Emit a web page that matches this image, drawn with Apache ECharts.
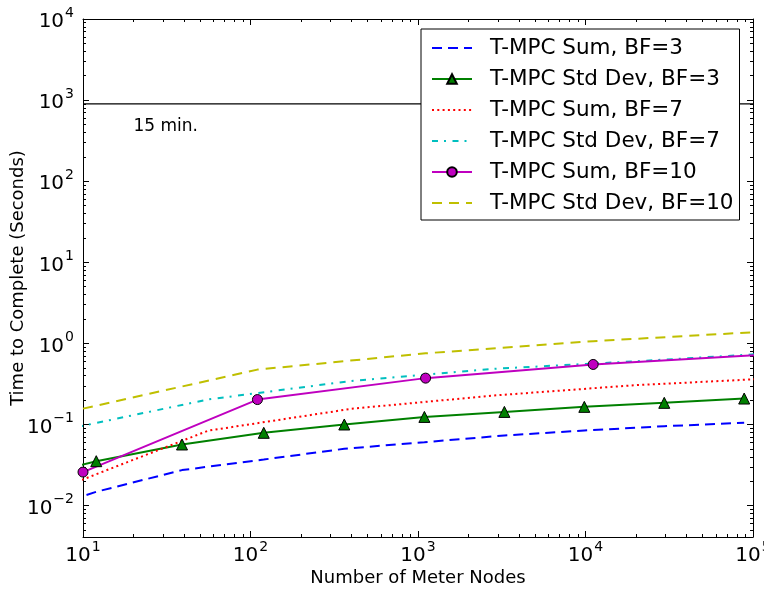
<!DOCTYPE html>
<html><head><meta charset="utf-8">
<script src="https://cdn.jsdelivr.net/npm/echarts@6/dist/echarts.min.js"></script>
<style>html,body{margin:0;padding:0;background:#fff}#c{width:764px;height:592px}</style>
</head><body><div id="c"></div>
<script>
// ---- data ----
const xBF3 = [3, 12, 39, 120, 363, 1092, 3279, 9840, 29523, 88572];
const sumBF3 = [0.0057, 0.0148, 0.0274, 0.037, 0.0502, 0.0605, 0.0732, 0.0843, 0.0953, 0.105];
const stdBF3 = [0.0171, 0.0353, 0.0567, 0.079, 0.100, 0.124, 0.143, 0.165, 0.185, 0.209];
const xBF7 = [7, 56, 399, 2800, 19607, 137256];
const sumBF7 = [0.0158, 0.084, 0.156, 0.2275, 0.305, 0.372];
const stdBF7 = [0.0826, 0.204, 0.344, 0.485, 0.60, 0.76];
const xBF10 = [10, 110, 1110, 11110, 111110];
const sumBF10 = [0.0259, 0.203, 0.373, 0.55, 0.724];
const stdBF10 = [0.157, 0.475, 0.755, 1.065, 1.39];
const limitX = [10, 100000];
const limitY = [900, 900];
const limitText = '15 min.';
const limitTextPos = [20, 400];
const seriesNames = ['T-MPC Sum, BF=3', 'T-MPC Std Dev, BF=3', 'T-MPC Sum, BF=7',
  'T-MPC Std Dev, BF=7', 'T-MPC Sum, BF=10', 'T-MPC Std Dev, BF=10'];
const xMajor = [10, 100, 1000, 10000, 100000];
const yMajor = [0.01, 0.1, 1, 10, 100, 1000, 10000];
const xRange = [10, 100000];
const yRange = [0.0041, 10000];
const xTitle = 'Number of Meter Nodes';
const yTitle = 'Time to Complete (Seconds)';

// ---- helpers ----
function minors(lowExp, highExp) {
  const out = [];
  for (let e = lowExp; e <= highExp; e++) {
    for (let k = 2; k <= 9; k++) out.push(+(k * Math.pow(10, e)).toPrecision(6));
  }
  return out;
}
const xMinor = minors(1, 4);
const yMinor = minors(-3, 3).filter(v => v >= yRange[0]);
const zip = (xs, ys) => xs.map((x, i) => [x, ys[i]]);
const FONT = 'DejaVu Sans';
function expLabel(v) {
  const e = Math.round(Math.log10(v));
  const s = e < 0 ? '\u2212' + (-e) : String(e);
  return '{b|10}{s|' + s + '}';
}
const rich = {
  b: { fontFamily: FONT, fontSize: 20, color: '#000', lineHeight: 26, verticalAlign: 'bottom' },
  s: { fontFamily: FONT, fontSize: 14, color: '#000', lineHeight: 26, verticalAlign: 'top', padding: [0, 0, 0, 1] }
};
function axisPair(kind, pos, majors, minorsArr, range, withLabels) {
  const base = {
    type: 'log', logBase: 10, min: range[0], max: range[1], position: pos,
    splitLine: { show: false }, minorTick: { show: false }, splitArea: { show: false }
  };
  const major = Object.assign({}, base, {
    axisLine: { show: true, onZero: false, lineStyle: { color: '#000', width: 1 } },
    axisTick: { show: true, inside: true, length: 6, customValues: majors, lineStyle: { color: '#000', width: 1 } },
    axisLabel: withLabels ? {
      show: true, customValues: majors, formatter: expLabel, rich: rich, margin: kind === 'x' ? 3 : 9,
      hideOverlap: false
    } : { show: false }
  });
  const minor = Object.assign({}, base, {
    axisLine: { show: false, onZero: false },
    axisTick: { show: true, inside: true, length: 3, customValues: minorsArr, lineStyle: { color: '#000', width: 1 } },
    axisLabel: { show: false }
  });
  return [major, minor];
}
const xAxes = axisPair('x', 'bottom', xMajor, xMinor, xRange, true).concat(axisPair('x', 'top', xMajor, xMinor, xRange, false));
const yAxes = axisPair('y', 'left', yMajor, yMinor, yRange, true).concat(axisPair('y', 'right', yMajor, yMinor, yRange, false));
Object.assign(xAxes[0], {
  name: xTitle, nameLocation: 'middle', nameGap: 32, nameMoveOverlap: false,
  nameTextStyle: { fontFamily: FONT, fontSize: 18, color: '#000' }
});
Object.assign(yAxes[0], {
  name: yTitle, nameLocation: 'middle', nameGap: 56, nameMoveOverlap: false,
  nameTextStyle: { fontFamily: FONT, fontSize: 18, color: '#000' }
});

const noMarker = { itemStyle: { opacity: 0 } };
const chart = echarts.init(document.getElementById('c'), null, { renderer: 'canvas' });
chart.setOption({
  animation: false,
  backgroundColor: '#fff',
  grid: { left: 83, right: 11, top: 19, bottom: 55, containLabel: false, outerBoundsMode: 'none' },
  xAxis: xAxes,
  yAxis: yAxes,
  legend: {
    orient: 'vertical', left: 421, top: 29,
    padding: [8, 6, 6, 10], itemGap: 9, itemWidth: 40, itemHeight: 12,
    borderColor: '#000', borderWidth: 1, backgroundColor: '#fff',
    textStyle: { fontFamily: FONT, fontSize: 21.5, color: '#000', padding: [0, 0, 0, 13] },
    data: [
      Object.assign({ name: seriesNames[0] }, noMarker),
      { name: seriesNames[1] },
      Object.assign({ name: seriesNames[2] }, noMarker),
      Object.assign({ name: seriesNames[3] }, noMarker),
      { name: seriesNames[4] },
      Object.assign({ name: seriesNames[5] }, noMarker)
    ]
  },
  series: [
    { name: seriesNames[0], type: 'line', data: zip(xBF3, sumBF3), symbol: 'none',
      lineStyle: { color: '#0000ff', width: 2, type: [10, 6] }, itemStyle: { color: '#0000ff' } },
    { name: seriesNames[1], type: 'line', data: zip(xBF3, stdBF3), symbol: 'triangle', symbolSize: 11,
      lineStyle: { color: '#008000', width: 2 }, itemStyle: { color: '#008000', borderColor: '#000', borderWidth: 1 } },
    { name: seriesNames[2], type: 'line', data: zip(xBF7, sumBF7), symbol: 'none',
      lineStyle: { color: '#ff0000', width: 2, type: [2, 3.3] }, itemStyle: { color: '#ff0000' } },
    { name: seriesNames[3], type: 'line', data: zip(xBF7, stdBF7), symbol: 'none',
      lineStyle: { color: '#00bfbf', width: 2, type: [6, 6, 2, 6.5] }, itemStyle: { color: '#00bfbf' } },
    { name: seriesNames[4], type: 'line', data: zip(xBF10, sumBF10), symbol: 'circle', symbolSize: 10,
      lineStyle: { color: '#bf00bf', width: 2 }, itemStyle: { color: '#bf00bf', borderColor: '#000', borderWidth: 1 } },
    { name: seriesNames[5], type: 'line', data: zip(xBF10, stdBF10), symbol: 'none',
      lineStyle: { color: '#bfbf00', width: 2, type: [10, 7] }, itemStyle: { color: '#bfbf00' } },
    { name: 'limit', type: 'line', data: zip(limitX, limitY), symbol: 'none', silent: true,
      lineStyle: { color: '#000', width: 1.3 }, z: 1 },
    { name: 'limitText', type: 'scatter', data: [limitTextPos], symbolSize: 0, silent: true,
      itemStyle: { opacity: 1 },
      label: { show: true, formatter: limitText, position: [0, 0], align: 'left', verticalAlign: 'bottom',
        offset: [0, 3], fontFamily: FONT, fontSize: 17, color: '#000' } }
  ]
});
</script></body></html>
